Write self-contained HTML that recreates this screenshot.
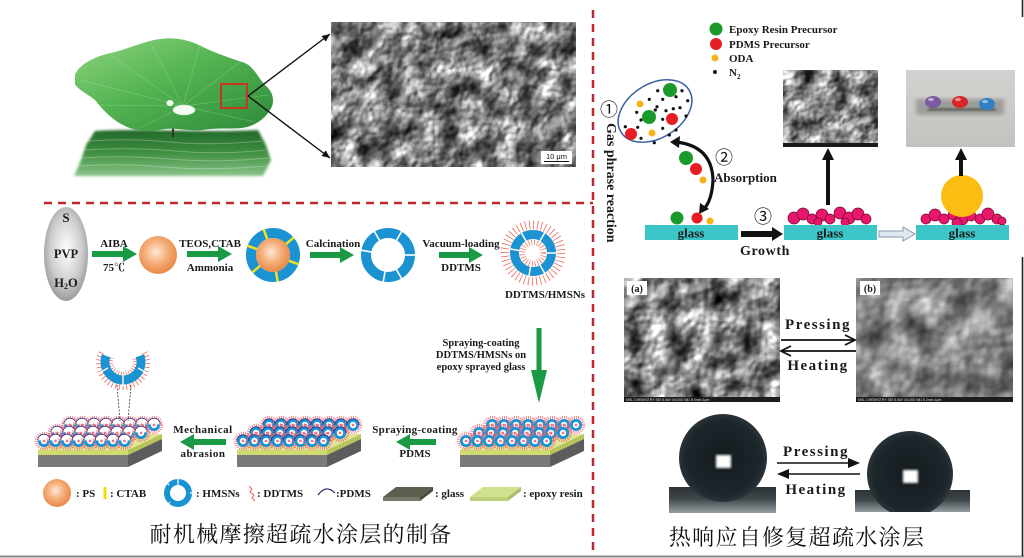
<!DOCTYPE html>
<html><head><meta charset="utf-8">
<style>
html,body{margin:0;padding:0;background:#fff;}
svg{display:block;}
.b{font-family:"Liberation Serif","Noto Serif CJK SC",serif;font-weight:bold;fill:#1a1a1a;}
.cn{font-family:"Noto Serif CJK SC","Noto Serif CJK JP","Noto Sans CJK SC",serif;fill:#111;}
.ci{font-family:"Noto Sans CJK SC","DejaVu Sans",sans-serif;fill:#111;}
</style></head><body>
<svg width="1024" height="558" viewBox="0 0 1024 558" xmlns="http://www.w3.org/2000/svg" xmlns:xlink="http://www.w3.org/1999/xlink">
<defs>
 <linearGradient id="leafG" x1="0" y1="0" x2="1" y2="1">
  <stop offset="0" stop-color="#8fd47e"/><stop offset="0.45" stop-color="#54b452"/><stop offset="1" stop-color="#2c8a38"/>
 </linearGradient>
 <linearGradient id="reflG" x1="0" y1="0" x2="0" y2="1">
  <stop offset="0" stop-color="#23682a"/><stop offset="0.5" stop-color="#3f9042"/><stop offset="1" stop-color="#8cc488"/>
 </linearGradient>
 <radialGradient id="og" cx="0.45" cy="0.42" r="0.62">
  <stop offset="0" stop-color="#fde8d6"/><stop offset="0.5" stop-color="#f5ad78"/><stop offset="1" stop-color="#e6843f"/>
 </radialGradient>
 <radialGradient id="grayG" cx="0.5" cy="0.45" r="0.6">
  <stop offset="0" stop-color="#ffffff"/><stop offset="0.6" stop-color="#cdcdcd"/><stop offset="1" stop-color="#8f8f8f"/>
 </radialGradient>
 <linearGradient id="stageG" x1="0" y1="0" x2="0" y2="1">
  <stop offset="0" stop-color="#2c3236"/><stop offset="0.45" stop-color="#3f464a"/><stop offset="1" stop-color="#969da1"/>
 </linearGradient>
 <radialGradient id="dropG" cx="0.5" cy="0.5" r="0.5">
  <stop offset="0" stop-color="#141b1f"/><stop offset="0.85" stop-color="#1d262b"/><stop offset="1" stop-color="#2a343a"/>
 </radialGradient>
 <linearGradient id="photoG" x1="0" y1="0" x2="0" y2="1">
  <stop offset="0" stop-color="#d2d2d0"/><stop offset="1" stop-color="#c2c2be"/>
 </linearGradient>

 <filter id="fL" x="0" y="0" width="1" height="1" color-interpolation-filters="sRGB">
  <feTurbulence type="fractalNoise" baseFrequency="0.05" numOctaves="3" seed="5" result="t"/>
  <feDiffuseLighting in="t" surfaceScale="5" diffuseConstant="1" lighting-color="#ffffff" result="L"><feDistantLight azimuth="220" elevation="50"/></feDiffuseLighting>
  <feColorMatrix in="t" type="matrix" values="1 0 0 0 0  1 0 0 0 0  1 0 0 0 0  0 0 0 0 1" result="g"/>
  <feComponentTransfer in="g" result="g2"><feFuncR type="linear" slope="1.3" intercept="-0.1"/><feFuncG type="linear" slope="1.3" intercept="-0.1"/><feFuncB type="linear" slope="1.3" intercept="-0.1"/></feComponentTransfer>
  <feComposite in="L" in2="g2" operator="arithmetic" k1="1" k2="0" k3="0" k4="0" result="m"/>
  <feComponentTransfer in="m"><feFuncR type="linear" slope="1.25" intercept="0"/><feFuncG type="linear" slope="1.25" intercept="0"/><feFuncB type="linear" slope="1.25" intercept="0"/><feFuncA type="linear" slope="0" intercept="1"/></feComponentTransfer>
 </filter>
 <filter id="fA" x="0" y="0" width="1" height="1" color-interpolation-filters="sRGB">
  <feTurbulence type="fractalNoise" baseFrequency="0.045" numOctaves="3" seed="11" result="t"/>
  <feDiffuseLighting in="t" surfaceScale="5" diffuseConstant="1" lighting-color="#ffffff" result="L"><feDistantLight azimuth="225" elevation="50"/></feDiffuseLighting>
  <feColorMatrix in="t" type="matrix" values="1 0 0 0 0  1 0 0 0 0  1 0 0 0 0  0 0 0 0 1" result="g"/>
  <feComponentTransfer in="g" result="g2"><feFuncR type="linear" slope="1.6" intercept="-0.2"/><feFuncG type="linear" slope="1.6" intercept="-0.2"/><feFuncB type="linear" slope="1.6" intercept="-0.2"/></feComponentTransfer>
  <feComposite in="L" in2="g2" operator="arithmetic" k1="1" k2="0" k3="0" k4="0" result="m"/>
  <feComponentTransfer in="m"><feFuncR type="linear" slope="1.15" intercept="0"/><feFuncG type="linear" slope="1.15" intercept="0"/><feFuncB type="linear" slope="1.15" intercept="0"/><feFuncA type="linear" slope="0" intercept="1"/></feComponentTransfer>
 </filter>
 <filter id="fB" x="0" y="0" width="1" height="1" color-interpolation-filters="sRGB">
  <feTurbulence type="fractalNoise" baseFrequency="0.035" numOctaves="3" seed="3" result="t"/>
  <feDiffuseLighting in="t" surfaceScale="3.5" diffuseConstant="1" lighting-color="#ffffff" result="L"><feDistantLight azimuth="225" elevation="52"/></feDiffuseLighting>
  <feColorMatrix in="t" type="matrix" values="1 0 0 0 0  1 0 0 0 0  1 0 0 0 0  0 0 0 0 1" result="g"/>
  <feComponentTransfer in="g" result="g2"><feFuncR type="linear" slope="1.0" intercept="0.1"/><feFuncG type="linear" slope="1.0" intercept="0.1"/><feFuncB type="linear" slope="1.0" intercept="0.1"/></feComponentTransfer>
  <feComposite in="L" in2="g2" operator="arithmetic" k1="1" k2="0" k3="0" k4="0" result="m"/>
  <feComponentTransfer in="m"><feFuncR type="linear" slope="1.1" intercept="0"/><feFuncG type="linear" slope="1.1" intercept="0"/><feFuncB type="linear" slope="1.1" intercept="0"/><feFuncA type="linear" slope="0" intercept="1"/></feComponentTransfer>
 </filter>
 <filter id="fS" x="0" y="0" width="1" height="1" color-interpolation-filters="sRGB">
  <feTurbulence type="fractalNoise" baseFrequency="0.06" numOctaves="3" seed="8" result="t"/>
  <feDiffuseLighting in="t" surfaceScale="4" diffuseConstant="1" lighting-color="#ffffff" result="L"><feDistantLight azimuth="225" elevation="52"/></feDiffuseLighting>
  <feColorMatrix in="t" type="matrix" values="1 0 0 0 0  1 0 0 0 0  1 0 0 0 0  0 0 0 0 1" result="g"/>
  <feComponentTransfer in="g" result="g2"><feFuncR type="linear" slope="1.3" intercept="-0.1"/><feFuncG type="linear" slope="1.3" intercept="-0.1"/><feFuncB type="linear" slope="1.3" intercept="-0.1"/></feComponentTransfer>
  <feComposite in="L" in2="g2" operator="arithmetic" k1="1" k2="0" k3="0" k4="0" result="m"/>
  <feComponentTransfer in="m"><feFuncR type="linear" slope="1.25" intercept="0"/><feFuncG type="linear" slope="1.25" intercept="0"/><feFuncB type="linear" slope="1.25" intercept="0"/><feFuncA type="linear" slope="0" intercept="1"/></feComponentTransfer>
 </filter>
 <filter id="bl1"><feGaussianBlur stdDeviation="1.2"/></filter>
 <filter id="bl2"><feGaussianBlur stdDeviation="2"/></filter>
 <marker id="ah" markerWidth="9" markerHeight="8" refX="8" refY="4" orient="auto" markerUnits="userSpaceOnUse"><path d="M0,0.5 L8,4 L0,7.5 Z" fill="#111"/></marker>
 <clipPath id="cpR"><rect x="855" y="420" width="115" height="92"/></clipPath>

 <g id="pp">
  <circle r="7.6" fill="none" stroke="#f0606c" stroke-width="3.2" stroke-dasharray="0.7 1.4"/>
  <circle r="4.6" fill="#fff" stroke="#1b93d3" stroke-width="2.8"/>
  <path d="M-6.2,0 A6.2,6.2 0 0 1 6.2,0" fill="none" stroke="#2a2a80" stroke-width="0.8"/>
  <circle r="1.4" fill="#f27a86"/>
 </g>
 <g id="pr">
  <circle r="7.6" fill="none" stroke="#f0606c" stroke-width="3.2" stroke-dasharray="0.7 1.4"/>
  <circle r="4.6" fill="#fff" stroke="#1b93d3" stroke-width="2.8"/>
  <circle r="1.4" fill="#f27a86"/>
 </g>
 <g id="pa">
  <circle r="7.6" fill="none" stroke="#f0606c" stroke-width="3.2" stroke-dasharray="0.7 1.4"/>
  <circle r="4.6" fill="#fff" stroke="#1b93d3" stroke-width="2.8"/>
  <path d="M-6.4,-0.6 A6.4,6.4 0 0 1 6.4,-0.6 Z" fill="#fff"/>
  <path d="M-6.2,-0.6 A6.2,6.2 0 0 1 6.2,-0.6" fill="none" stroke="#2a2a80" stroke-width="0.8"/>
  <circle r="1.4" fill="#f27a86"/>
 </g>
 <g id="base">
  <polygon points="0,0 90,0 124,-16 34,-16" fill="#dfe59a"/>
  <polygon points="90,0 124,-16 124,-11 90,5" fill="#b6c45a"/>
  <polygon points="90,5 124,-11 124,1 90,17" fill="#5c5c5c"/>
  <rect x="0" y="0" width="90" height="5" fill="#cfdb72"/>
  <rect x="0" y="5" width="90" height="12" fill="#7a7a7a"/>
 </g>
 <g id="rowsP">
  <use xlink:href="#pp" x="32" y="-25"/><use xlink:href="#pp" x="44" y="-25"/><use xlink:href="#pp" x="56" y="-25"/><use xlink:href="#pp" x="68" y="-25"/><use xlink:href="#pp" x="80" y="-25"/><use xlink:href="#pp" x="92" y="-25"/><use xlink:href="#pp" x="104" y="-25"/><use xlink:href="#pp" x="116" y="-25"/>
  <use xlink:href="#pp" x="19" y="-17"/><use xlink:href="#pp" x="31" y="-17"/><use xlink:href="#pp" x="43" y="-17"/><use xlink:href="#pp" x="55" y="-17"/><use xlink:href="#pp" x="67" y="-17"/><use xlink:href="#pp" x="79" y="-17"/><use xlink:href="#pp" x="91" y="-17"/><use xlink:href="#pp" x="103" y="-17"/>
  <use xlink:href="#pp" x="6" y="-9"/><use xlink:href="#pp" x="17.5" y="-9"/><use xlink:href="#pp" x="29" y="-9"/><use xlink:href="#pp" x="40.5" y="-9"/><use xlink:href="#pp" x="52" y="-9"/><use xlink:href="#pp" x="63.5" y="-9"/><use xlink:href="#pp" x="75" y="-9"/><use xlink:href="#pp" x="86.5" y="-9"/>
 </g>
 <g id="rowsR">
  <use xlink:href="#pr" x="32" y="-25"/><use xlink:href="#pr" x="44" y="-25"/><use xlink:href="#pr" x="56" y="-25"/><use xlink:href="#pr" x="68" y="-25"/><use xlink:href="#pr" x="80" y="-25"/><use xlink:href="#pr" x="92" y="-25"/><use xlink:href="#pr" x="104" y="-25"/><use xlink:href="#pr" x="116" y="-25"/>
  <use xlink:href="#pr" x="19" y="-17"/><use xlink:href="#pr" x="31" y="-17"/><use xlink:href="#pr" x="43" y="-17"/><use xlink:href="#pr" x="55" y="-17"/><use xlink:href="#pr" x="67" y="-17"/><use xlink:href="#pr" x="79" y="-17"/><use xlink:href="#pr" x="91" y="-17"/><use xlink:href="#pr" x="103" y="-17"/>
  <use xlink:href="#pr" x="6" y="-9"/><use xlink:href="#pr" x="17.5" y="-9"/><use xlink:href="#pr" x="29" y="-9"/><use xlink:href="#pr" x="40.5" y="-9"/><use xlink:href="#pr" x="52" y="-9"/><use xlink:href="#pr" x="63.5" y="-9"/><use xlink:href="#pr" x="75" y="-9"/><use xlink:href="#pr" x="86.5" y="-9"/>
 </g>
 <g id="rowsA">
  <use xlink:href="#pa" x="32" y="-25"/><use xlink:href="#pa" x="44" y="-25"/><use xlink:href="#pa" x="56" y="-25"/><use xlink:href="#pa" x="68" y="-25"/><use xlink:href="#pa" x="80" y="-25"/><use xlink:href="#pa" x="92" y="-25"/><use xlink:href="#pa" x="104" y="-25"/><use xlink:href="#pa" x="116" y="-25"/>
  <use xlink:href="#pa" x="19" y="-17"/><use xlink:href="#pa" x="31" y="-17"/><use xlink:href="#pa" x="43" y="-17"/><use xlink:href="#pa" x="55" y="-17"/><use xlink:href="#pa" x="67" y="-17"/><use xlink:href="#pa" x="79" y="-17"/><use xlink:href="#pa" x="91" y="-17"/><use xlink:href="#pa" x="103" y="-17"/>
  <use xlink:href="#pa" x="6" y="-9"/><use xlink:href="#pa" x="17.5" y="-9"/><use xlink:href="#pa" x="29" y="-9"/><use xlink:href="#pa" x="40.5" y="-9"/><use xlink:href="#pa" x="52" y="-9"/><use xlink:href="#pa" x="63.5" y="-9"/><use xlink:href="#pa" x="75" y="-9"/><use xlink:href="#pa" x="86.5" y="-9"/>
 </g>
</defs>

<rect width="1024" height="558" fill="#fff"/>

<!-- ============ LEFT TOP: lotus ============ -->
<path d="M95,131 C140,128 200,133 258,130 L266,145 L271,160 L263,176 L74,176 L81,160 L86,145 Z" fill="url(#reflG)" filter="url(#bl1)"/>
<g stroke="#ffffff" stroke-width="1" fill="none" opacity="0.28">
 <path d="M88,141 Q130,138 170,142 T262,141"/>
 <path d="M84,150 Q130,147 175,151 T266,150"/>
 <path d="M80,158 Q125,155 170,159 T268,158"/>
 <path d="M78,166 Q120,163 165,167 T266,166"/>
</g>
<line x1="173" y1="118" x2="173" y2="137" stroke="#2d3a2a" stroke-width="2"/>
<path d="M75,75 C80,62 100,55 115,52 C130,48 145,41 160,39 C175,37 190,40 203,47 C215,53 230,58 245,63 C255,68 258,78 266,86 C274,93 275,103 270,110 C266,117 258,124 247,127 C235,130 218,127 203,130 C190,132 172,126 160,130 C148,132 135,131 125,126 C112,120 103,110 95,100 C88,94 78,90 75,84 Z" fill="url(#leafG)"/>
<g stroke="#b8eaa8" stroke-width="0.7" opacity="0.35">
 <line x1="183" y1="106" x2="80" y2="80"/><line x1="183" y1="106" x2="110" y2="55"/><line x1="183" y1="106" x2="150" y2="42"/>
 <line x1="183" y1="106" x2="200" y2="45"/><line x1="183" y1="106" x2="240" y2="62"/><line x1="183" y1="106" x2="268" y2="95"/>
 <line x1="183" y1="106" x2="255" y2="122"/><line x1="183" y1="106" x2="140" y2="128"/><line x1="183" y1="106" x2="100" y2="105"/>
</g>
<ellipse cx="184" cy="110" rx="11" ry="5" fill="#f4fbf2" stroke="#cfe6cc" stroke-width="0.6"/>
<ellipse cx="170" cy="103" rx="3.5" ry="3" fill="#f4fbf2"/>
<rect x="221" y="84" width="26" height="24" fill="none" stroke="#c8361f" stroke-width="2"/>
<line x1="248" y1="96" x2="330" y2="34" stroke="#111" stroke-width="1.4" marker-end="url(#ah)"/>
<line x1="248" y1="96" x2="330" y2="158" stroke="#111" stroke-width="1.4" marker-end="url(#ah)"/>
<rect x="331" y="22" width="245" height="145" fill="#888" filter="url(#fL)"/>
<rect x="541" y="151" width="31" height="13" fill="#fff"/>
<text x="556.5" y="159" font-family="Liberation Sans,sans-serif" font-size="7.5" text-anchor="middle" fill="#111">10 μm</text>
<line x1="544" y1="161.5" x2="569" y2="161.5" stroke="#111" stroke-width="1"/>

<!-- dashed separators -->
<line x1="44" y1="203" x2="593" y2="203" stroke="#c0272d" stroke-width="2.5" stroke-dasharray="8 6"/>
<line x1="593" y1="10" x2="593" y2="556" stroke="#c0272d" stroke-width="2.5" stroke-dasharray="8 6"/>
<line x1="0" y1="556.5" x2="1024" y2="556.5" stroke="#8a8a8a" stroke-width="2"/>
<line x1="1022.5" y1="0" x2="1022.5" y2="17" stroke="#222" stroke-width="1.6"/>
<line x1="1022.5" y1="257" x2="1022.5" y2="556" stroke="#222" stroke-width="1.6"/>

<!-- ============ LEFT: synthesis row ============ -->
<ellipse cx="66" cy="254" rx="22" ry="47" fill="url(#grayG)"/>
<text class="b" x="66" y="222" font-size="13" text-anchor="middle">S</text>
<text class="b" x="66" y="258" font-size="12.5" text-anchor="middle">PVP</text>
<text class="b" x="66" y="287" font-size="12.5" text-anchor="middle">H<tspan font-size="8" dy="2">2</tspan><tspan dy="-2">O</tspan></text>

<g fill="#1b9a46">
 <polygon points="92,251 123,251 123,246 137,254 123,262 123,257 92,257"/>
 <polygon points="187,251 218,251 218,246 232,254 218,262 218,257 187,257"/>
 <polygon points="310,252 340,252 340,247 354,255 340,263 340,258 310,258"/>
 <polygon points="439,252 469,252 469,247 483,255 469,263 469,258 439,258"/>
 <polygon points="536.5,328 541.5,328 541.5,370 547,370 539,403 531,370 536.5,370"/>
 <polygon points="226,439 194,439 194,434 180,442 194,450 194,445 226,445"/>
 <polygon points="436,439 410,439 410,434 396,442 410,450 410,445 436,445"/>
</g>
<text class="b" x="114" y="247" font-size="11" text-anchor="middle">AIBA</text>
<text class="b" x="114" y="271" font-size="11" text-anchor="middle">75℃</text>
<text class="b" x="210" y="247" font-size="11" text-anchor="middle">TEOS,CTAB</text>
<text class="b" x="210" y="271" font-size="11" text-anchor="middle">Ammonia</text>
<text class="b" x="333" y="247" font-size="11" text-anchor="middle">Calcination</text>
<text class="b" x="461" y="247" font-size="11" text-anchor="middle">Vacuum-loading</text>
<text class="b" x="461" y="271" font-size="11" text-anchor="middle">DDTMS</text>
<text class="b" x="545" y="298" font-size="11" text-anchor="middle">DDTMS/HMSNs</text>

<circle cx="158" cy="255" r="19" fill="url(#og)"/>
<!-- core-shell -->
<circle cx="273" cy="255" r="22" fill="none" stroke="#1b93d3" stroke-width="10"/>
<circle cx="273" cy="255" r="17" fill="url(#og)"/>
<g stroke="#f2e21a" stroke-width="2.5">
 <line x1="289" y1="260.8" x2="298.4" y2="264.2"/><line x1="276" y1="271.7" x2="277.7" y2="281.6"/>
 <line x1="260" y1="265.9" x2="252.3" y2="272.4"/><line x1="257" y1="249.2" x2="247.6" y2="245.8"/>
 <line x1="267.2" y1="239" x2="263.8" y2="229.6"/><line x1="286" y1="244.1" x2="293.7" y2="237.6"/>
</g>
<!-- hollow ring -->
<circle cx="388" cy="255" r="22" fill="none" stroke="#1b93d3" stroke-width="10"/>
<g stroke="#fff" stroke-width="1.6">
 <line x1="396" y1="241.1" x2="402" y2="230.8"/><line x1="404" y1="255" x2="416" y2="255"/>
 <line x1="396" y1="268.9" x2="402" y2="279.2"/><line x1="385.2" y1="270.8" x2="383.1" y2="282.6"/>
 <line x1="372.2" y1="252.2" x2="360.4" y2="250.1"/><line x1="380" y1="241.1" x2="374" y2="230.8"/>
</g>
<!-- DDTMS ring -->
<circle cx="533" cy="253" r="28" fill="none" stroke="#ee5544" stroke-width="9" stroke-dasharray="0.7 3.3"/>
<circle cx="533" cy="253" r="10.5" fill="none" stroke="#ee5544" stroke-width="6" stroke-dasharray="0.6 2.2"/>
<circle cx="533" cy="253" r="18.5" fill="none" stroke="#1b93d3" stroke-width="9"/>
<g stroke="#fff" stroke-width="1.5">
 <line x1="539.5" y1="241.7" x2="545" y2="232.2"/><line x1="546" y1="253" x2="557" y2="253"/>
 <line x1="539.5" y1="264.3" x2="545" y2="273.8"/><line x1="530.7" y1="265.8" x2="528.8" y2="276.6"/>
 <line x1="520.2" y1="250.7" x2="509.4" y2="248.8"/><line x1="526.5" y1="241.7" x2="521" y2="232.2"/>
</g>

<!-- spraying text -->
<text class="b" x="481" y="346" font-size="10.5" text-anchor="middle">Spraying-coating</text>
<text class="b" x="481" y="358" font-size="10.5" text-anchor="middle">DDTMS/HMSNs on</text>
<text class="b" x="481" y="370" font-size="10.5" text-anchor="middle">epoxy sprayed glass</text>

<!-- substrates -->
<g transform="translate(460,450)"><use xlink:href="#base"/><use xlink:href="#rowsR"/></g>
<g transform="translate(237,450)"><use xlink:href="#base"/><use xlink:href="#rowsP"/></g>
<g transform="translate(38,450)"><use xlink:href="#base"/><use xlink:href="#rowsA"/></g>

<text class="b" x="203" y="433" font-size="11" text-anchor="middle" letter-spacing="0.5">Mechanical</text>
<text class="b" x="203" y="457" font-size="11" text-anchor="middle" letter-spacing="0.5">abrasion</text>
<text class="b" x="415" y="433" font-size="11" text-anchor="middle" letter-spacing="0.3">Spraying-coating</text>
<text class="b" x="415" y="457" font-size="11" text-anchor="middle">PDMS</text>

<!-- broken piece -->
<line x1="117" y1="385" x2="120" y2="421" stroke="#333" stroke-width="0.8" stroke-dasharray="2 1.5"/>
<line x1="131" y1="385" x2="128" y2="421" stroke="#333" stroke-width="0.8" stroke-dasharray="2 1.5"/>
<path d="M101.4,352.7 A24,24 0 1 0 144.6,352.7" fill="none" stroke="#ee5544" stroke-width="6" stroke-dasharray="0.7 3"/>
<path d="M111.7,357.9 A12,12 0 1 0 134.3,357.9" fill="none" stroke="#ee5544" stroke-width="4" stroke-dasharray="0.6 2"/>
<path d="M106.1,355.8 A18,18 0 1 0 139.9,355.8" fill="none" stroke="#1b93d3" stroke-width="9"/>
<g stroke="#fff" stroke-width="1.4">
 <line x1="123" y1="374" x2="123" y2="386"/><line x1="108" y1="368" x2="99" y2="373"/><line x1="138" y1="368" x2="147" y2="373"/>
</g>

<!-- legend row -->
<circle cx="57" cy="493" r="14" fill="url(#og)"/>
<text class="b" x="76" y="497" font-size="11">: PS</text>
<rect x="103.5" y="487" width="3" height="12" fill="#f0e000"/>
<text class="b" x="110" y="497" font-size="11">: CTAB</text>
<circle cx="178" cy="493" r="11" fill="none" stroke="#1b93d3" stroke-width="6"/>
<g stroke="#fff" stroke-width="1.2"><line x1="178" y1="479" x2="178" y2="486"/><line x1="190" y1="493" x2="193" y2="493"/><line x1="170" y1="502" x2="166" y2="506"/><line x1="169" y1="485" x2="166" y2="482"/></g>
<text class="b" x="196" y="497" font-size="11">: HMSNs</text>
<path d="M249,486 L252,489 L250,492 L254,495 L252,498 L255,501" fill="none" stroke="#ee5544" stroke-width="0.9"/>
<text class="b" x="257" y="497" font-size="11">: DDTMS</text>
<path d="M318,495 Q326,484 335,493" fill="none" stroke="#2a2a6a" stroke-width="1.2"/>
<text class="b" x="336" y="497" font-size="11">:PDMS</text>
<polygon points="383,497 396,487 433,487 420,497" fill="#5e5e4e"/>
<rect x="383" y="497" width="37" height="4" fill="#77776a"/>
<polygon points="420,497 433,487 433,491 420,501" fill="#4a4a3e"/>
<text class="b" x="435" y="497" font-size="11">: glass</text>
<polygon points="470,497 483,487 521,487 508,497" fill="#cfe08e"/>
<rect x="470" y="497" width="38" height="4" fill="#bcd07a"/>
<polygon points="508,497 521,487 521,491 508,501" fill="#a9bd68"/>
<text class="b" x="523" y="497" font-size="11">: epoxy resin</text>

<text class="cn" x="301" y="542" font-size="22" text-anchor="middle" letter-spacing="1.3">耐机械摩擦超疏水涂层的制备</text>

<!-- ============ RIGHT TOP ============ -->
<circle cx="716" cy="29" r="6.5" fill="#1a9a2a"/>
<circle cx="716" cy="44" r="6" fill="#e81c24"/>
<circle cx="715" cy="58" r="3.5" fill="#f5b21a"/>
<circle cx="715" cy="72" r="2" fill="#111"/>
<text class="b" x="729" y="33" font-size="11">Epoxy Resin Precursor</text>
<text class="b" x="729" y="48" font-size="11">PDMS Precursor</text>
<text class="b" x="729" y="62" font-size="11">ODA</text>
<text class="b" x="729" y="76" font-size="11">N<tspan font-size="7" dy="3">2</tspan></text>

<ellipse cx="655" cy="111" rx="40" ry="27" transform="rotate(-32 655 111)" fill="#fff" stroke="#3a5fa0" stroke-width="1.5"/>
<g fill="#111">
 <circle cx="657.7" cy="90.7" r="1.6"/><circle cx="682" cy="90.7" r="1.6"/><circle cx="649.3" cy="99.3" r="1.6"/><circle cx="662.7" cy="99.3" r="1.6"/>
 <circle cx="676" cy="96.7" r="1.6"/><circle cx="687.7" cy="100.7" r="1.6"/><circle cx="657" cy="106.7" r="1.6"/><circle cx="636.7" cy="112.3" r="1.6"/>
 <circle cx="655.3" cy="110" r="1.6"/><circle cx="666" cy="110.7" r="1.6"/><circle cx="686" cy="116" r="1.6"/><circle cx="662.7" cy="119.3" r="1.6"/>
 <circle cx="680" cy="107.7" r="1.6"/><circle cx="641" cy="120" r="1.6"/><circle cx="625.3" cy="126.7" r="1.6"/><circle cx="637.7" cy="127.3" r="1.6"/>
 <circle cx="662.7" cy="128.3" r="1.6"/><circle cx="676" cy="130" r="1.6"/><circle cx="669.3" cy="135" r="1.6"/><circle cx="641" cy="138.3" r="1.6"/>
 <circle cx="654.3" cy="142.7" r="1.6"/><circle cx="673.3" cy="108.7" r="1.6"/>
</g>
<circle cx="670" cy="90" r="7" fill="#1a9a2a"/>
<circle cx="649" cy="117" r="7" fill="#1a9a2a"/>
<circle cx="672" cy="119" r="6" fill="#e81c24"/>
<circle cx="631" cy="134" r="6" fill="#e81c24"/>
<circle cx="640" cy="104" r="3.5" fill="#f5b21a"/>
<circle cx="652" cy="133" r="3.5" fill="#f5b21a"/>

<text class="ci" x="609" y="116" font-size="18" text-anchor="middle">①</text>
<text class="b" transform="translate(607,123) rotate(90)" font-size="14">Gas phrase reaction</text>

<circle cx="686" cy="158" r="7" fill="#1a9a2a"/>
<circle cx="696" cy="169" r="6" fill="#e81c24"/>
<circle cx="703" cy="180" r="3.5" fill="#f5b21a"/>
<path d="M676,142 Q712,146 713,180 Q712,200 704,209" fill="none" stroke="#111" stroke-width="3.2"/>
<polygon points="670,142 680,136 679,148" fill="#111"/>
<polygon points="699,214 700,203 709,209" fill="#111"/>
<text class="ci" x="724" y="164" font-size="18" text-anchor="middle">②</text>
<text class="b" x="714" y="182" font-size="13">Absorption</text>

<circle cx="677" cy="218" r="6.5" fill="#1a9a2a"/>
<circle cx="697" cy="218" r="5.5" fill="#e81c24"/>
<circle cx="710" cy="221" r="3.5" fill="#f5b21a"/>
<rect x="645" y="225" width="93" height="15" fill="#3cc6c8"/>
<text class="b" x="691" y="237.5" font-size="13" text-anchor="middle" fill="#163030">glass</text>

<text class="ci" x="763" y="223" font-size="18" text-anchor="middle">③</text>
<polygon points="741,231 772,231 772,227 783,234 772,241 772,237 741,237" fill="#111"/>
<text class="b" x="740" y="255" font-size="14" letter-spacing="0.6">Growth</text>

<!-- glass 2 -->
<g fill="#e9176c" stroke="#6d0a33" stroke-width="0.7">
 <circle cx="794" cy="218" r="6"/><circle cx="803" cy="214" r="6"/><circle cx="812" cy="219" r="5"/><circle cx="822" cy="215" r="6"/>
 <circle cx="830" cy="219" r="5"/><circle cx="840" cy="213" r="6"/><circle cx="849" cy="218" r="6"/><circle cx="858" cy="214" r="6"/>
 <circle cx="866" cy="219" r="5"/><circle cx="818" cy="222" r="4"/><circle cx="845" cy="222" r="4"/>
</g>
<rect x="784" y="225" width="93" height="15" fill="#3cc6c8"/>
<text class="b" x="830" y="237.5" font-size="13" text-anchor="middle" fill="#163030">glass</text>
<rect x="826" y="158" width="4" height="47" fill="#111"/>
<polygon points="822,160 828,148 834,160" fill="#111"/>
<rect x="783" y="70" width="95" height="77" fill="#888" filter="url(#fS)"/>
<rect x="783" y="143" width="95" height="4" fill="#1a1a1a"/>

<!-- light arrow -->
<polygon points="879,231 903,231 903,227 915,234 903,241 903,237 879,237" fill="#dfe7f1" stroke="#8a9aac" stroke-width="1"/>

<!-- glass 3 -->
<g fill="#e9176c" stroke="#6d0a33" stroke-width="0.7">
 <circle cx="926" cy="219" r="5"/><circle cx="935" cy="215" r="6"/><circle cx="944" cy="219" r="5"/><circle cx="953" cy="215" r="5"/>
 <circle cx="962" cy="219" r="6"/><circle cx="971" cy="216" r="5"/><circle cx="980" cy="219" r="5"/><circle cx="988" cy="214" r="6"/>
 <circle cx="997" cy="219" r="5"/><circle cx="1002" cy="221" r="4"/><circle cx="957" cy="223" r="5"/>
</g>
<circle cx="962" cy="196" r="21" fill="#fbbd12"/>
<rect x="916" y="225" width="93" height="15" fill="#3cc6c8"/>
<text class="b" x="962" y="237.5" font-size="13" text-anchor="middle" fill="#163030">glass</text>
<rect x="959" y="158" width="4" height="18" fill="#111"/>
<polygon points="955,160 961,148 967,160" fill="#111"/>

<!-- photo -->
<rect x="906" y="70" width="109" height="77" fill="url(#photoG)"/>
<rect x="916" y="99" width="88" height="16" fill="#9c9c99" filter="url(#bl2)"/>
<rect x="928" y="108" width="68" height="3" fill="#5f5f5d" filter="url(#bl1)"/>
<ellipse cx="933" cy="102" rx="8" ry="6" fill="#7b5aa0"/>
<ellipse cx="960" cy="102" rx="8" ry="6" fill="#d8262a"/>
<ellipse cx="987" cy="104" rx="8" ry="6" fill="#2f7fc4"/>
<ellipse cx="931" cy="99.5" rx="3" ry="1.6" fill="#fff" opacity="0.5"/>
<ellipse cx="958" cy="99.5" rx="3" ry="1.6" fill="#fff" opacity="0.5"/>
<ellipse cx="985" cy="101.5" rx="3" ry="1.6" fill="#fff" opacity="0.5"/>

<!-- ============ RIGHT BOTTOM ============ -->
<rect x="624" y="278" width="156" height="124" fill="#888" filter="url(#fA)"/>
<rect x="624" y="397" width="156" height="5" fill="#1c1c1c"/>
<text x="626" y="401" font-family="Liberation Sans,sans-serif" font-size="3.5" fill="#ddd">MSL CHEMISTRY        SEI    5.0kV    X5,000    WD 8.0mm        1μm</text>
<rect x="627" y="281" width="20" height="14" fill="#fff"/>
<text class="b" x="637" y="292" font-size="10" text-anchor="middle">(a)</text>

<rect x="856" y="278" width="157" height="124" fill="#888" filter="url(#fB)"/>
<rect x="856" y="397" width="157" height="5" fill="#1c1c1c"/>
<text x="858" y="401" font-family="Liberation Sans,sans-serif" font-size="3.5" fill="#ddd">MSL CHEMISTRY        SEI    5.0kV    X5,000    WD 8.2mm        1μm</text>
<rect x="860" y="281" width="20" height="14" fill="#fff"/>
<text class="b" x="870" y="292" font-size="10" text-anchor="middle">(b)</text>

<text class="b" x="818" y="329" font-size="15" text-anchor="middle" letter-spacing="1.5">Pressing</text>
<line x1="781" y1="340" x2="854" y2="340" stroke="#111" stroke-width="1.8"/>
<polyline points="845,335 855,340 845,345" fill="none" stroke="#111" stroke-width="1.8"/>
<line x1="782" y1="351" x2="856" y2="351" stroke="#111" stroke-width="1.8"/>
<polyline points="791,346 781,351 791,356" fill="none" stroke="#111" stroke-width="1.8"/>
<text class="b" x="818" y="370" font-size="15" text-anchor="middle" letter-spacing="1.5">Heating</text>

<!-- droplets -->
<rect x="669" y="487" width="107" height="26" fill="url(#stageG)"/>
<circle cx="723" cy="458" r="44" fill="url(#dropG)"/>
<rect x="716" y="455" width="15" height="13" fill="#fff" filter="url(#bl1)"/>

<rect x="855" y="490" width="115" height="22" fill="url(#stageG)"/>
<circle cx="910" cy="474" r="43" fill="url(#dropG)" clip-path="url(#cpR)"/>
<rect x="903" y="470" width="15" height="13" fill="#fff" filter="url(#bl1)"/>

<text class="b" x="816" y="456" font-size="15" text-anchor="middle" letter-spacing="1.5">Pressing</text>
<line x1="777" y1="463" x2="850" y2="463" stroke="#111" stroke-width="1.6"/>
<polygon points="848,458 860,463 848,468" fill="#111"/>
<line x1="786" y1="474" x2="860" y2="474" stroke="#111" stroke-width="1.6"/>
<polygon points="789,469 777,474 789,479" fill="#111"/>
<text class="b" x="816" y="494" font-size="15" text-anchor="middle" letter-spacing="1.5">Heating</text>

<text class="cn" x="797" y="545" font-size="22" text-anchor="middle" letter-spacing="1.3">热响应自修复超疏水涂层</text>
</svg>
</body></html>
